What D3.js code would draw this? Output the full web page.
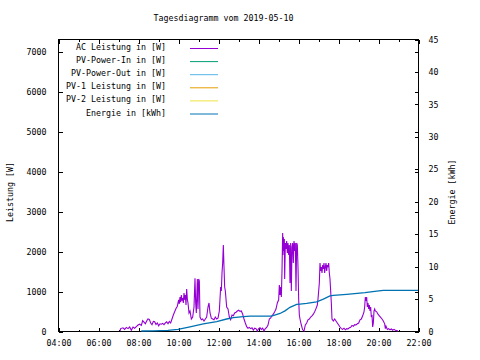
<!DOCTYPE html>
<html><head><meta charset="utf-8">
<script src="https://cdn.jsdelivr.net/npm/d3@7"></script>
<style>
body{margin:0;background:#fff;}
svg{display:block;}
text{font-family:"DejaVu Sans Mono",monospace;font-size:8.3px;fill:#000;}
</style></head><body>
<svg id="c" width="480" height="360"></svg>
<script>
const title = "Tagesdiagramm vom 2019-05-10";
const seriesNames = ["AC Leistung in [W]","PV-Power-In in [W]","PV-Power-Out in [W]","PV-1 Leistung in [W]","PV-2 Leistung in [W]","Energie in [kWh]"];
const seriesColors = ["#9400d3","#009e73","#56b4e9","#e69f00","#f0e442","#0072b2"];
const xTickLabels = ["04:00","06:00","08:00","10:00","12:00","14:00","16:00","18:00","20:00","22:00"];
const yTicks = [0,1000,2000,3000,4000,5000,6000,7000];
const y2Ticks = [0,5,10,15,20,25,30,35,40,45];

const acTime = ["07:06","07:08","07:15","07:20","07:25","07:30","07:35","07:40","07:45","07:50","07:55","08:00","08:05","08:10","08:14","08:18","08:22","08:26","08:30","08:34","08:38","08:42","08:46","08:50","08:54","08:58","09:02","09:06","09:10","09:14","09:18","09:22","09:26","09:30","09:34","09:38","09:42","09:46","09:50","09:54","09:58","10:02","10:04","10:06","10:08","10:10","10:12","10:14","10:16","10:18","10:20","10:22","10:24","10:26","10:28","10:30","10:33","10:36","10:40","10:44","10:48","10:51","10:53","10:55","10:58","11:00","11:02","11:04","11:06","11:10","11:14","11:18","11:22","11:26","11:30","11:33","11:36","11:40","11:44","11:48","11:52","11:56","12:00","12:04","12:08","12:10","12:12","12:14","12:16","12:18","12:20","12:22","12:26","12:30","12:34","12:38","12:42","12:46","12:50","12:54","12:58","13:02","13:06","13:10","13:14","13:18","13:22","13:26","13:30","13:34","13:38","13:42","13:46","13:50","13:54","13:58","14:02","14:06","14:10","14:14","14:18","14:22","14:26","14:30","14:34","14:38","14:42","14:46","14:50","14:54","14:58","15:02","15:04","15:06","15:08","15:10","15:12","15:14","15:15","15:16","15:18","15:19","15:20","15:22","15:24","15:26","15:28","15:30","15:32","15:34","15:36","15:38","15:40","15:42","15:44","15:46","15:48","15:50","15:52","15:54","15:56","15:58","16:00","16:02","16:04","16:06","16:10","16:14","16:18","16:22","16:26","16:30","16:34","16:38","16:42","16:46","16:50","16:54","16:58","17:00","17:02","17:04","17:06","17:08","17:10","17:12","17:14","17:16","17:18","17:20","17:22","17:24","17:26","17:28","17:30","17:32","17:34","17:36","17:38","17:40","17:42","17:46","17:50","17:54","17:58","18:02","18:06","18:10","18:14","18:18","18:22","18:26","18:30","18:34","18:38","18:42","18:46","18:50","18:54","18:58","19:02","19:06","19:10","19:14","19:18","19:20","19:22","19:24","19:26","19:28","19:30","19:32","19:34","19:36","19:38","19:40","19:42","19:44","19:46","19:48","19:50","19:52","19:56","20:00","20:04","20:08","20:12","20:16","20:20","20:22","20:24","20:28","20:32","20:36","20:40","20:44","20:48","20:52","20:56","21:00"];
const acPower = [0,60,80,40,90,60,100,20,100,70,110,150,170,140,260,220,180,250,300,290,200,160,240,230,160,200,130,180,170,190,160,200,230,180,240,200,300,400,480,560,620,780,680,850,720,900,760,820,700,950,780,900,650,1050,800,700,450,500,300,350,600,1320,700,450,1300,550,1300,1250,350,280,300,250,300,350,600,700,450,320,300,280,350,300,320,500,1100,1000,1450,1700,2150,1600,1100,1000,600,550,350,280,400,380,450,470,500,520,490,500,420,300,200,110,70,90,60,80,20,70,60,0,60,80,40,70,0,60,90,150,300,330,380,420,480,550,700,780,1150,900,1100,850,1500,2450,1900,2350,2000,2300,1300,2200,2050,2250,1950,2200,1900,2150,1200,2200,1000,2100,2200,1700,2250,2000,2200,1000,2200,2150,1600,800,400,300,150,30,0,150,200,280,300,350,380,420,480,560,650,800,1000,1200,1700,1500,1600,1450,1650,1550,1700,1450,1600,1700,1500,1650,1600,1700,1450,1300,1000,700,300,250,300,250,200,150,100,60,40,70,30,60,50,80,90,140,120,160,150,180,200,280,300,380,480,600,850,750,850,600,700,550,650,500,600,350,400,100,200,500,550,500,480,420,380,340,300,250,180,60,120,40,60,30,50,20,40,20,10,0];

const enTime = ["08:10","08:45","09:30","10:00","10:36","11:16","11:56","12:26","12:46","13:16","13:36","14:40","14:50","15:06","15:21","15:36","15:56","16:06","16:26","16:56","17:16","17:36","17:46","18:26","19:21","19:56","20:16","21:00","22:00"];
const enValue = [0,0.02,0.1,0.25,0.65,1.1,1.45,1.85,2.05,2.2,2.3,2.3,2.45,2.7,3.1,3.65,4.1,4.15,4.25,4.5,4.9,5.4,5.5,5.65,5.9,6.15,6.25,6.27,6.27];

const toMin = s => { const [h,m] = s.split(":").map(Number); return h*60+m; };

const svg = d3.select("#c");
const L = 58, R = 418, T = 39, B = 331;
const x = d3.scaleLinear().domain([240, 1320]).range([L, R]);
const y = d3.scaleLinear().domain([0, 7300]).range([B, T]);
const y2 = d3.scaleLinear().domain([0, 45]).range([B, T]);

// title
svg.append("text").attr("x", 223.5).attr("y", 21).attr("text-anchor","middle").text(title);

// frame
svg.append("rect").attr("x", L+0.5).attr("y", T+0.5).attr("width", R-L).attr("height", B-T)
  .attr("fill","none").attr("stroke","#000").attr("stroke-width",1);

function styleAxis(g){ g.select(".domain").remove(); g.selectAll("line").attr("stroke","#000").attr("shape-rendering","crispEdges"); g.selectAll("text").style("font-family",'"DejaVu Sans Mono",monospace').style("font-size","8.3px").attr("fill","#000"); }

const majorX = xTickLabels.map(toMin);
const minorX = d3.range(5, 22, 2).map(h => h*60);

// bottom axis
svg.append("g").attr("transform",`translate(0.5,${B+0.5})`)
  .call(d3.axisBottom(x).tickValues(majorX).tickSize(-4).tickPadding(9).tickFormat((d,i)=>xTickLabels[i]))
  .call(styleAxis);
svg.append("g").attr("transform",`translate(0.5,${B+0.5})`)
  .call(d3.axisBottom(x).tickValues(minorX).tickSize(-2).tickFormat(""))
  .call(styleAxis);
// top mirror
svg.append("g").attr("transform",`translate(0.5,${T+0.5})`)
  .call(d3.axisTop(x).tickValues(majorX).tickSize(-4).tickFormat(""))
  .call(styleAxis);
svg.append("g").attr("transform",`translate(0.5,${T+0.5})`)
  .call(d3.axisTop(x).tickValues(minorX).tickSize(-2).tickFormat(""))
  .call(styleAxis);

// left axis
svg.append("g").attr("transform",`translate(${L+0.5},0.5)`)
  .call(d3.axisLeft(y).tickValues(yTicks).tickSize(-4).tickPadding(12).tickFormat(d3.format("d")))
  .call(styleAxis);
// left mirrored on right
svg.append("g").attr("transform",`translate(${R+0.5},0.5)`)
  .call(d3.axisRight(y).tickValues(yTicks).tickSize(-4).tickFormat(""))
  .call(styleAxis);
// right y2 axis
svg.append("g").attr("transform",`translate(${R+0.5},0.5)`)
  .call(d3.axisRight(y2).tickValues(y2Ticks).tickSize(-4).tickPadding(10).tickFormat(d3.format("d")))
  .call(styleAxis);

// axis labels
svg.append("text").attr("transform","translate(13,192) rotate(-90)").attr("text-anchor","middle").text("Leistung [W]");
svg.append("text").attr("transform","translate(455,192) rotate(-90)").attr("text-anchor","middle").text("Energie [kWh]");

// data lines
const acData = acTime.map((t,i)=>({t:toMin(t), v:acPower[i]}));
const enData = enTime.map((t,i)=>({t:toMin(t), v:enValue[i]}));

svg.append("path").datum(acData)
  .attr("d", d3.line().x(d=>x(d.t)).y(d=>y(d.v)))
  .attr("fill","none").attr("stroke",seriesColors[0]).attr("stroke-width",1.1);
svg.append("path").datum(enData)
  .attr("d", d3.line().x(d=>x(d.t)).y(d=>y2(d.v)))
  .attr("fill","none").attr("stroke",seriesColors[5]).attr("stroke-width",1.3);

// legend
const leg = svg.append("g");
seriesNames.forEach((n,i)=>{
  const yy = 49 + i*13.1;
  leg.append("text").attr("x",166).attr("y",yy+1).attr("text-anchor","end").text(n);
  leg.append("line").attr("x1",190).attr("x2",218).attr("y1",yy-0.5).attr("y2",yy-0.5)
    .attr("stroke",seriesColors[i]).attr("stroke-width",1);
});
</script>
</body></html>
